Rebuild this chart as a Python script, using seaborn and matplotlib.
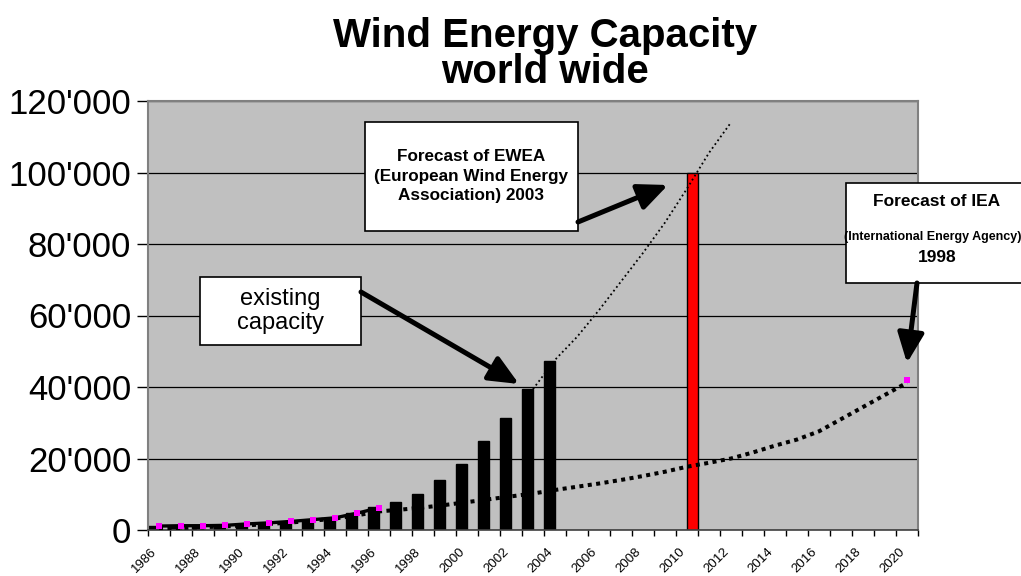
import numpy as np
import pandas as pd
import seaborn as sns
import matplotlib.pyplot as plt
from matplotlib.patches import Rectangle, FancyArrowPatch
from matplotlib.transforms import ScaledTranslation

# categories on the x axis
years = list(range(1986, 2021))

# existing world wide capacity in MW (black bars)
existing_years = list(range(1986, 2005))
existing_mw = [1100, 1200, 1300, 1400, 1700, 2000, 2300, 2800, 3300, 4700,
               6300, 7800, 10200, 14100, 18500, 25000, 31300, 39400, 47400]

# EWEA forecast 2003 (red bar and thin dotted line)
ewea_bar_years = [2010]
ewea_bar_mw = [100000]
ewea_years = list(range(2003, 2013))
ewea_mw = [39400, 47600, 54000, 61500, 69500, 77500, 86000, 95500, 105500, 114000]

# IEA forecast 1998 (thick dotted line)
iea_mw = [400, 600, 800, 1000, 1300, 1700, 2100, 2600, 3200, 4100,
          5200, 5700, 6300, 7000, 7800, 8600, 9400, 10200, 11200, 12100,
          13000, 14000, 15100, 16300, 17700, 18800, 20000, 21700, 23600, 25300,
          27600, 31000, 34400, 37800, 41200]

# reported points (magenta markers)
mark_years = list(range(1986, 1997)) + [2020]
mark_mw = [1100, 1200, 1200, 1300, 1700, 2000, 2400, 2900, 3400, 4700, 6200, 42000]

y_ticks = [0, 20000, 40000, 60000, 80000, 100000, 120000]

sns.set_theme(style='white')
plt.rcParams['font.family'] = ['Liberation Sans', 'DejaVu Sans']
plt.rcParams['text.color'] = 'black'
plt.rcParams['xtick.color'] = 'black'
plt.rcParams['ytick.color'] = 'black'

W, H = 1021, 576
fig = plt.figure(figsize=(W / 100, H / 100), dpi=100)
ax = fig.add_axes([148 / W, 1 - 530 / H, (918 - 148) / W, (530 - 101) / H])
ax.set_facecolor('#c0c0c0')

bars = pd.DataFrame({
    'year': existing_years + ewea_bar_years,
    'mw': existing_mw + ewea_bar_mw,
    'series': ['existing'] * len(existing_years) + ['EWEA'] * len(ewea_bar_years),
})
sns.barplot(data=bars, x='year', y='mw', hue='series', order=years,
            hue_order=['existing', 'EWEA'],
            palette={'existing': 'black', 'EWEA': '#ff0000'},
            width=1.0, gap=0, dodge=True, saturation=1, errorbar=None,
            legend=False, edgecolor='black', linewidth=1.0, ax=ax)

pos = {y: i for i, y in enumerate(years)}

# IEA trend (thick dotted)
sns.lineplot(x=[pos[y] for y in years], y=iea_mw, color='black', lw=2.9,
             linestyle=(0, (1, 1.1)), dash_capstyle='butt', ax=ax, zorder=4)
# EWEA trend (thin dotted)
sns.lineplot(x=[pos[y] for y in ewea_years], y=ewea_mw, color='black', lw=1.3,
             linestyle=(0, (1, 1.6)), ax=ax, zorder=4)
# reported points
early = [y for y in mark_years if y <= 1996]
sns.lineplot(x=[pos[y] for y in early], y=mark_mw[:len(early)], color='black',
             lw=2.4, ax=ax, zorder=4)
ax.scatter([pos[y] for y in mark_years], mark_mw, marker='s', s=14,
           color='#ff00ff', linewidths=0, zorder=5)

ax.set_xlim(-0.5, len(years) - 0.5)
ax.set_ylim(0, 120000)
ax.set_yticks(y_ticks)
ax.set_yticklabels([f"{v:,}".replace(',', "'") for v in y_ticks], fontsize=25)
ax.yaxis.grid(True, color='black', lw=0.9)
ax.set_axisbelow(True)

# ticks between categories, labels on every second year
ax.set_xticks(np.arange(-0.5, len(years), 1))
ax.set_xticklabels([])
lab_trans = ax.get_xaxis_transform() + ScaledTranslation(-0.08, -0.16, fig.dpi_scale_trans)
for k in range(0, len(years), 2):
    ax.text(k, 0, str(years[k]), transform=lab_trans, fontsize=9.5,
            rotation=45, ha='right', va='top', rotation_mode='anchor')
ax.tick_params(axis='x', which='major', direction='out', length=4, color='black',
               width=1, bottom=True)
ax.tick_params(axis='y', direction='out', length=8, color='black', width=1,
               left=True, pad=4)
ax.set_xlabel('')
ax.set_ylabel('')
for side in ['top', 'right', 'left']:
    ax.spines[side].set_color('#808080')
    ax.spines[side].set_linewidth(1.5)
ax.spines['bottom'].set_color('#404040')
ax.spines['bottom'].set_linewidth(1.2)

# title
fig.text(545 / W, 1 - 47 / H, 'Wind Energy Capacity', fontsize=29,
         fontweight='bold', ha='center', va='baseline')
fig.text(545 / W, 1 - 83 / H, 'world wide', fontsize=29,
         fontweight='bold', ha='center', va='baseline')


def box(x0, y0, x1, y1):
    fig.add_artist(Rectangle((x0 / W, 1 - y1 / H), (x1 - x0) / W, (y1 - y0) / H,
                             transform=fig.transFigure, fc='white', ec='black',
                             lw=1.2, zorder=6))


def label(x, y, s, **kw):
    fig.text(x / W, 1 - y / H, s, ha='center', va='center', zorder=7, **kw)


def arrow(x0, y0, x1, y1):
    fig.add_artist(FancyArrowPatch(
        (x0 / W, 1 - y0 / H), (x1 / W, 1 - y1 / H), transform=fig.transFigure,
        arrowstyle='-|>,head_length=0.9,head_width=0.4', mutation_scale=20,
        lw=3.6, color='black', shrinkA=0, shrinkB=0, zorder=8))


box(200, 277, 361, 345)
label(280.5, 311, 'existing\ncapacity', fontsize=17, linespacing=1.1)
arrow(361, 292, 519, 384)

box(365, 122, 578, 231)
label(471.5, 176, 'Forecast of EWEA\n(European Wind Energy\nAssociation) 2003',
      fontsize=12.3, fontweight='bold', linespacing=1.4)
arrow(578, 222, 668, 185)

box(846, 183, 1030, 283)
label(937, 202, 'Forecast of IEA', fontsize=12.5, fontweight='bold')
label(933, 237, '(International Energy Agency)', fontsize=9, fontweight='bold')
label(937, 257, '1998', fontsize=12.5, fontweight='bold')
arrow(917, 283, 907, 363)

fig.savefig('out.png', dpi=100)
